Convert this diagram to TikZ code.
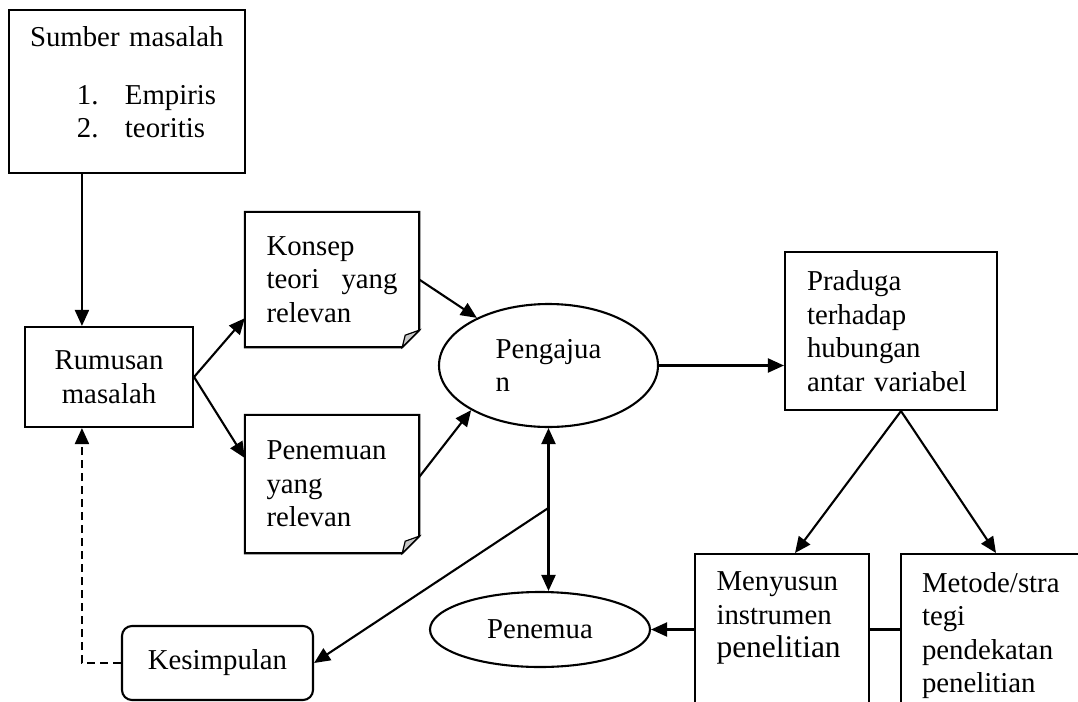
\documentclass[tikz,border=0pt]{standalone}
\usepackage{fontspec}
\setmainfont{Liberation Serif}
\usepackage{tikz}
\usetikzlibrary{shapes.geometric, arrows.meta, calc}
\definecolor{abuLipatan}{HTML}{C8C8C8}

\begin{document}
\begin{tikzpicture}[x=1pt, y=-1pt, font=\fontsize{28.8}{33.5}\selectfont,
        >={Triangle[length=16pt, width=14pt]},
        kotak/.style={draw, line width=2.1pt, rectangle, inner sep=0pt, align=center},
        lembar/.style={rectangle, inner ysep=0pt, inner xsep=21.5pt, text width=131pt, align=left},
        elips/.style={draw, line width=2.1pt, ellipse, inner sep=0pt},
        potong/.style={draw, line width=2.1pt, rectangle, anchor=north, inner ysep=18pt,
            align=left, text depth=160pt},
        panah/.style={->, line width=2.1pt},
        putus/.style={->, line width=2.1pt, dash pattern=on 8pt off 5pt}]
    \useasboundingbox (0,0) rectangle (1078,701);
    \clip (0,0) rectangle (1078,701);
    \node[kotak, align=left, text width=194pt, inner xsep=21pt, minimum height=163pt, text depth=109pt] (sumber) at (127,91.5)
        {Sumber masalah\\[24pt]
        \hspace*{47pt}\makebox[48pt][l]{1.}Empiris\\
        \hspace*{47pt}\makebox[48pt][l]{2.}teoritis};
    \node[kotak, minimum width=168pt, minimum height=100pt] (rumusan) at (109,377) {Rumusan\\masalah};
    \node[lembar, minimum height=135pt] (konsep) at (332,279.5) {Konsep\\teori\hfill yang\\relevan};
    \node[lembar, minimum height=138pt] (penemuan) at (332,484) {Penemuan\\yang\\relevan};
    \node[elips, minimum width=219pt, minimum height=123pt, align=left] (pengajuan) at (548.5,365.5) {Pengajua\\n};
    \node[kotak, align=left, text width=168pt, inner xsep=22pt, minimum height=158pt] (praduga) at (891,331)
        {Praduga\\terhadap\\hubungan\\antar variabel};
    \node[potong, text width=131pt, inner xsep=21.5pt] (menyusun) at (782,553)
        {Menyusun\\instrumen\\{\fontsize{31.5}{33.5}\selectfont penelitian}};
    \node[potong, text width=148pt, inner xsep=21pt] (metode) at (996,553)
        {Metode/stra\\tegi\\pendekatan\\penelitian};
    \node[elips, minimum width=220pt, minimum height=75pt] (penemua) at (540,629.5) {Penemua};
    \node[kotak, rounded corners=10pt, minimum width=191pt, minimum height=74pt] (kesimpulan) at (217.5,663) {Kesimpulan};

    \foreach \n in {konsep,penemuan}{
        \draw[line width=2.1pt] (\n.north west) -- (\n.north east) -- ([yshift=17pt]\n.south east)
            -- ([xshift=-17pt]\n.south east) -- (\n.south west) -- cycle;
        \filldraw[fill=abuLipatan, line width=1.2pt] ([yshift=17pt]\n.south east)
            -- ([xshift=-14pt, yshift=12pt]\n.south east) -- ([xshift=-17pt]\n.south east) -- cycle;
    }

    \draw[panah] ([xshift=74pt]sumber.south west) -- ([xshift=74pt]sumber.south west |- rumusan.north);
    \draw[panah] (rumusan.east) -- ([yshift=29pt]konsep.south west);
    \draw[panah] (rumusan.east) -- ([yshift=26pt]penemuan.west);
    \draw[panah] (konsep.east) -- (pengajuan);
    \draw[panah] ([yshift=7pt]penemuan.east) -- (pengajuan.210);
    \draw[panah] (pengajuan.east) -- (pengajuan.east -| praduga.west);
    \draw[panah] ([xshift=10pt]praduga.south) -- ([xshift=13pt]menyusun.north);
    \draw[panah] ([xshift=10pt]praduga.south) -- (metode.north);
    \draw[panah] (penemua.east -| menyusun.west) -- (penemua.east);
    \draw[line width=2.1pt] (menyusun.east |- penemua.east) -- (metode.west |- penemua.east);
    \draw[<->, line width=2.1pt] (pengajuan.south) -- (pengajuan.south |- penemua.north);
    \coordinate (cabang) at ($(pengajuan.south)!0.49!(pengajuan.south |- penemua.north)$);
    \draw[panah] (cabang) -- (kesimpulan.east);
    \draw[putus] (kesimpulan.west) -| ([xshift=58pt]rumusan.south west);
\end{tikzpicture}
\end{document}
